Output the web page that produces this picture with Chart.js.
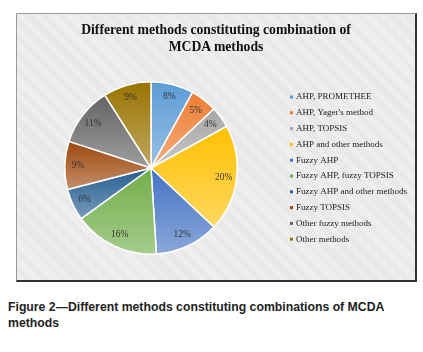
<!DOCTYPE html>
<html>
<head>
<meta charset="utf-8">
<script src="https://cdn.jsdelivr.net/npm/chart.js@4"></script>
<style>
  html, body { margin: 0; padding: 0; background: #fff; width: 423px; height: 352px; overflow: hidden; }
  #box {
    position: absolute; left: 16px; top: 13px; width: 398px; height: 266px;
    border-top: 1px solid #9a9a9a; border-left: 1px solid #9a9a9a;
    border-right: 2px solid #333; border-bottom: 2px solid #333;
    background: repeating-linear-gradient(45deg, #f3f3f3 0px, #f3f3f3 1px, #e4e4e4 1px, #e4e4e4 2px);
  }
  #box canvas { position: absolute; left: 0; top: 0; }
  #title {
    position: absolute; left: 0; top: 6.5px; width: 398px; text-align: center;
    font: bold 13.7px "Liberation Serif", "Times New Roman", serif; color: #111; line-height: 17px;
  }
  #caption {
    position: absolute; left: 8px; top: 299px; width: 410px;
    font: bold 12.25px "Liberation Sans", Arial, sans-serif; color: #222; line-height: 16px;
  }
</style>
</head>
<body>
<div id="box">
  <canvas id="chartMethods" width="398" height="266"></canvas>
  <div id="title">Different methods constituting combination of<br>MCDA methods</div>
</div>
<div id="caption">Figure 2—Different methods constituting combinations of MCDA methods</div>
<script>
const categories = [
  "AHP, PROMETHEE", "AHP, Yager's method", "AHP, TOPSIS", "AHP and other methods",
  "Fuzzy AHP", "Fuzzy AHP, fuzzy TOPSIS", "Fuzzy AHP and other methods",
  "Fuzzy TOPSIS", "Other fuzzy methods", "Other methods"
];
const shares = [8, 5, 4, 20, 12, 16, 6, 9, 11, 9];
const colorPalette = [
  "#5B9BD5", "#ED7D31", "#A5A5A5", "#FFC000", "#4472C4",
  "#70AD47", "#255E91", "#9E480E", "#636363", "#997300"
];

const serif = '"Liberation Serif", "Times New Roman", serif';

function lighten(hex, amt) {
  const n = parseInt(hex.slice(1), 16);
  const r = (n >> 16) & 255, g = (n >> 8) & 255, b = n & 255;
  const f = c => Math.round(c + (255 - c) * amt);
  return `rgb(${f(r)},${f(g)},${f(b)})`;
}

// vertical extent of slice i, so each slice gets its own top->bottom gradient
function sliceSpan(i, cx, cy, r) {
  const total = shares.reduce((a, b) => a + b, 0);
  const before = shares.slice(0, i).reduce((a, b) => a + b, 0);
  const a0 = -Math.PI / 2 + 2 * Math.PI * before / total;
  const a1 = a0 + 2 * Math.PI * shares[i] / total;
  const ys = [cy, cy + r * Math.sin(a0), cy + r * Math.sin(a1)];
  for (let k = -1; k <= 2; k++) {
    const a = Math.PI / 2 + k * Math.PI;
    if (a > a0 && a < a1) ys.push(cy + r * Math.sin(a));
  }
  return [Math.min(...ys), Math.max(...ys)];
}

// percentage labels inside each slice
const sliceLabels = {
  id: 'sliceLabels',
  afterDatasetsDraw(chart) {
    const ctx = chart.ctx;
    const meta = chart.getDatasetMeta(0);
    ctx.save();
    ctx.font = '9.5px ' + serif;
    ctx.fillStyle = '#333';
    ctx.textAlign = 'center';
    ctx.textBaseline = 'middle';
    meta.data.forEach((arc, i) => {
      const mid = (arc.startAngle + arc.endAngle) / 2;
      const r = arc.outerRadius * 0.85;
      ctx.fillText(shares[i] + '%', arc.x + Math.cos(mid) * r, arc.y + Math.sin(mid) * r);
    });
    ctx.restore();
  }
};

// legend list on the right, like the Excel one
const sideLegend = {
  id: 'sideLegend',
  afterDraw(chart) {
    const ctx = chart.ctx;
    ctx.save();
    ctx.font = '9px ' + serif;
    ctx.textBaseline = 'middle';
    categories.forEach((name, i) => {
      const y = 83 + i * 15.8;
      ctx.fillStyle = colorPalette[i];
      ctx.fillRect(273, y - 1.5, 3, 3);
      ctx.fillStyle = '#222';
      ctx.fillText(name, 279, y);
    });
    ctx.restore();
  }
};

const ctx = document.getElementById("chartMethods").getContext('2d');
new Chart(ctx, {
  type: "pie",
  data: {
    labels: categories,
    datasets: [{
      data: shares,
      backgroundColor: (c) => {
        const area = c.chart.chartArea;
        const base = colorPalette[c.dataIndex];
        if (!area) return base;
        const cx = (area.left + area.right) / 2, cy = (area.top + area.bottom) / 2;
        const rad = Math.min(area.right - area.left, area.bottom - area.top) / 2;
        const [y0, y1] = sliceSpan(c.dataIndex, cx, cy, rad);
        const g = c.chart.ctx.createLinearGradient(0, y0, 0, y1);
        g.addColorStop(0, base);
        g.addColorStop(1, lighten(base, 0.38));
        return g;
      },
      borderColor: "#ffffff",
      borderWidth: 1.5
    }]
  },
  options: {
    responsive: false,
    animation: false,
    layout: { padding: { left: 47, right: 177, top: 67, bottom: 25 } },
    plugins: {
      title: { display: false },
      legend: { display: false },
      tooltip: { enabled: false }
    }
  },
  plugins: [sliceLabels, sideLegend]
});
</script>
</body>
</html>
